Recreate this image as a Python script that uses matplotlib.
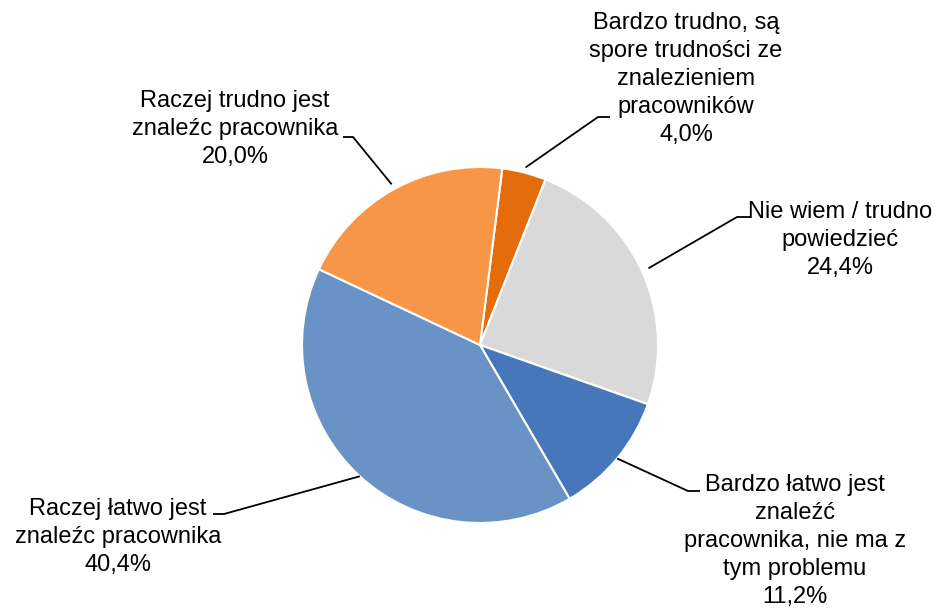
import matplotlib
matplotlib.use("Agg")
import matplotlib.pyplot as plt
import numpy as np

# ---- data ----
categories = [
    "Bardzo trudno, są\nspore trudności ze\nznalezieniem\npracowników",
    "Nie wiem / trudno\npowiedzieć",
    "Bardzo łatwo jest\nznaleźć\npracownika, nie ma z\ntym problemu",
    "Raczej łatwo jest\nznaleźc pracownika",
    "Raczej trudno jest\nznaleźc pracownika",
]
values = [4.0, 24.4, 11.2, 40.4, 20.0]
colors = ["#E46C0A", "#D9D9D9", "#4677BA", "#6993C6", "#F79646"]
explode = [0.03, 0.04, 0.0, 0.0, 0.03]

# label layout (pixel coords, y from top): text centre, elbow, elbow end
W, H = 939, 610
text_pos = [(686, 79), (840, 240), (795, 541), (118, 537), (235, 129)]
elbow = [(598, 117), (737, 217), (688, 491), (224, 514), (353, 137)]
elbow_end = [(610, 117), (750, 217), (700, 491), (213, 514), (343, 137)]

plt.rcParams['font.family'] = ['Liberation Sans', 'DejaVu Sans']

fig = plt.figure(figsize=(W / 100, H / 100), dpi=100)
ax = fig.add_axes([0, 0, 1, 1])
ax.set_xlim(0, W)
ax.set_ylim(0, H)
ax.set_aspect('equal')
ax.axis('off')

cx, cy, R = 480, H - 345, 178
wedges, _ = ax.pie(values, colors=colors, explode=explode, startangle=82.8,
                   counterclock=False, center=(cx, cy), radius=R,
                   wedgeprops=dict(edgecolor='white', linewidth=1.5))
ax.set_xlim(0, W)
ax.set_ylim(0, H)

for i, w in enumerate(wedges):
    th = np.deg2rad((w.theta1 + w.theta2) / 2)
    rr = R * (1 + explode[i])
    sx, sy = cx + rr * np.cos(th), cy + rr * np.sin(th)
    ex, ey = elbow[i][0], H - elbow[i][1]
    fx, fy = elbow_end[i][0], H - elbow_end[i][1]
    ax.plot([sx, ex, fx], [sy, ey, fy], color='black', lw=1.3,
            solid_capstyle='butt', zorder=3)
    pct = f"{values[i]:.1f}%".replace('.', ',')
    tx, ty = text_pos[i]
    ax.text(tx, H - ty, categories[i] + "\n" + pct, ha='center', va='center',
            fontsize=17, linespacing=1.36, color='black')

fig.savefig("out.png", dpi=100)
